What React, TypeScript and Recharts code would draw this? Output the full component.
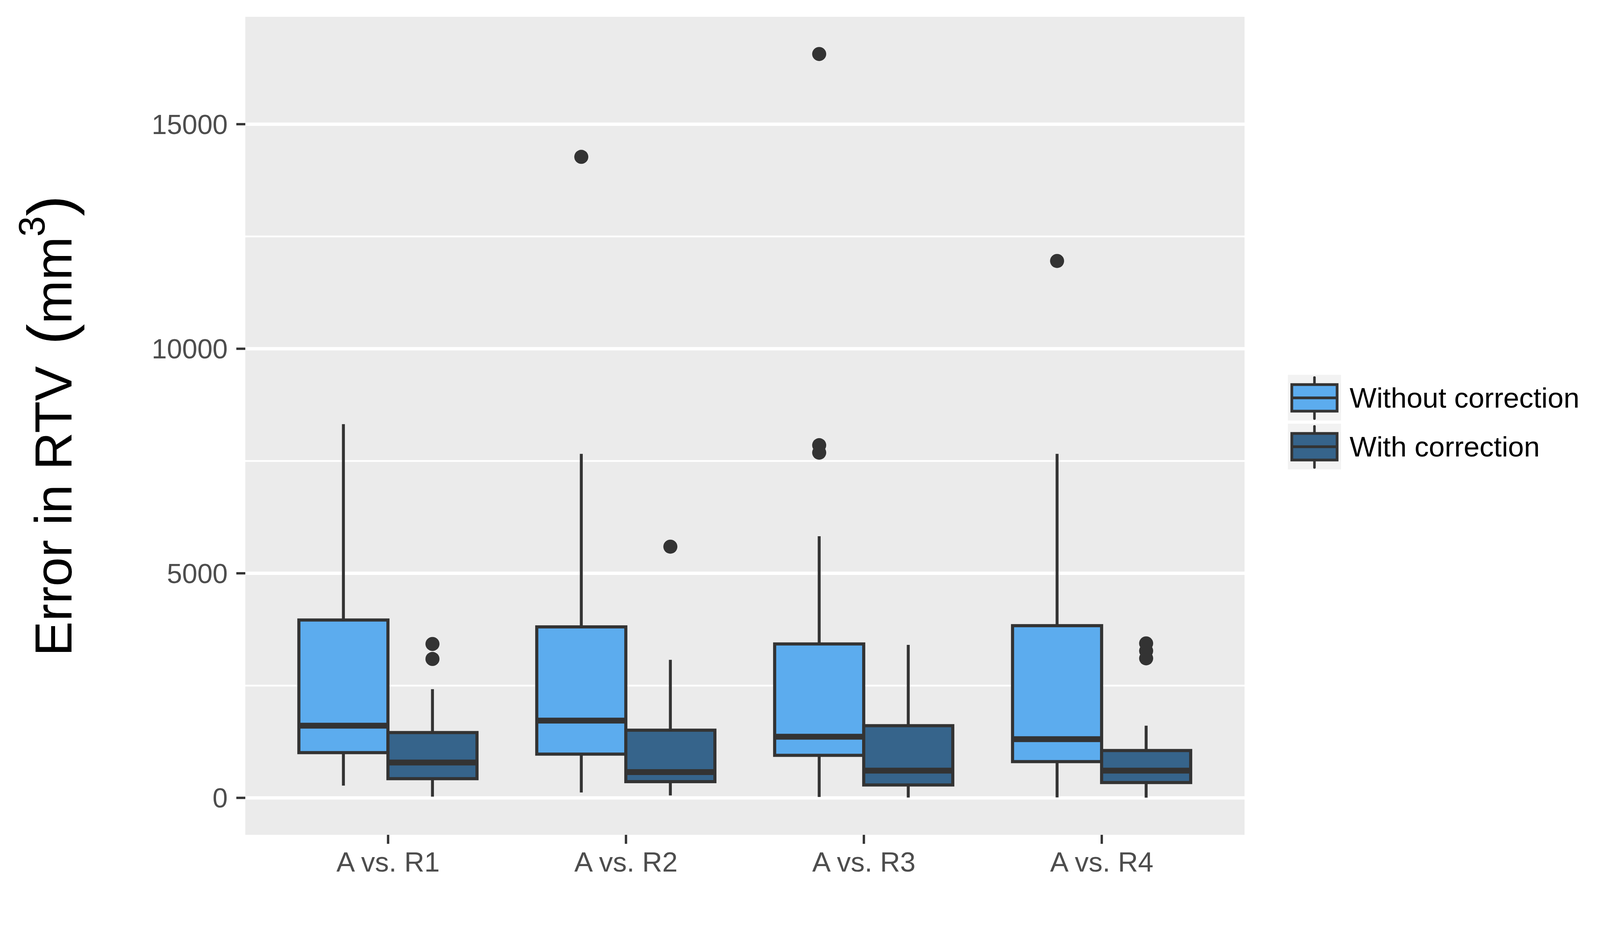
import React from 'react';
import { ComposedChart, Bar, XAxis, YAxis, CartesianGrid, Legend } from 'recharts';

const categories = ['A vs. R1', 'A vs. R2', 'A vs. R3', 'A vs. R4'];
const seriesNames = ['Without correction', 'With correction'];
const seriesColors = ['#5CACEE', '#36648B'];

const withoutLow = [273, 120, 20, 10];
const withoutQ1 = [1007, 974, 947, 807];
const withoutMedian = [1607, 1720, 1361, 1307];
const withoutQ3 = [3960, 3807, 3427, 3834];
const withoutHigh = [8320, 7660, 5826, 7660];
const withoutOutliers = [[], [14273], [7853, 7686, 16563], [11955]];

const withLow = [27, 54, 7, 5];
const withQ1 = [427, 361, 287, 341];
const withMedian = [787, 574, 607, 607];
const withQ3 = [1454, 1507, 1607, 1054];
const withHigh = [2420, 3073, 3407, 1607];
const withOutliers = [[3427, 3093], [5593], [], [3440, 3273, 3107]];

const yTicks = [0, 5000, 10000, 15000];
const yMinorTicks = [2500, 7500, 12500];
const yDomain = [-823, 17391];

const data = categories.map((cat, i) => ({
  cat,
  woLo: withoutLow[i], woQ1: withoutQ1[i], woMed: withoutMedian[i], woQ3: withoutQ3[i], woHi: withoutHigh[i], woOut: withoutOutliers[i],
  wLo: withLow[i], wQ1: withQ1[i], wMed: withMedian[i], wQ3: withQ3[i], wHi: withHigh[i], wOut: withOutliers[i],
}));

const FONT = '"Liberation Sans", Arial, Helvetica, sans-serif';
const INK = '#333333';

const makeBoxShape = (p: string) => (props: any) => {
  const { x, y, width, height, payload, fill } = props;
  const lo = payload[p + 'Lo'];
  const hi = payload[p + 'Hi'];
  const pix = (v: number) => y + (height * (hi - v)) / (hi - lo);
  const cx = x + width / 2;
  const outs: number[] = payload[p + 'Out'] || [];
  return (
    <g>
      <line x1={cx} x2={cx} y1={pix(hi)} y2={pix(payload[p + 'Q3'])} stroke={INK} strokeWidth={7.5} />
      <line x1={cx} x2={cx} y1={pix(payload[p + 'Q1'])} y2={pix(lo)} stroke={INK} strokeWidth={7.5} />
      <rect x={x} y={pix(payload[p + 'Q3'])} width={width} height={pix(payload[p + 'Q1']) - pix(payload[p + 'Q3'])} fill={fill} stroke={INK} strokeWidth={8} />
      <line x1={x} x2={x + width} y1={pix(payload[p + 'Med'])} y2={pix(payload[p + 'Med'])} stroke={INK} strokeWidth={15} />
      {outs.map((v, k) => (
        <circle key={k} cx={cx} cy={pix(v)} r={18} fill={INK} />
      ))}
    </g>
  );
};

const YTitle = (props: any) => {
  const vb = props.viewBox || { y: 43, height: 2093 };
  const cy = vb.y + vb.height / 2;
  const bx = 183;
  return (
    <text x={bx} y={cy} transform={`rotate(-90, ${bx}, ${cy})`} textAnchor="middle" fill="#000000" fontSize={134} fontFamily={FONT}>
      <tspan>Error in RTV</tspan>
      <tspan dx={55} fontSize={160}>(</tspan>
      <tspan>mm</tspan>
      <tspan fontSize={94} dy={-69}>3</tspan>
      <tspan fontSize={160} dy={69}>)</tspan>
    </text>
  );
};

const renderLegend = (props: any) => {
  const payload = props.payload || [];
  const ordered = seriesNames.map((name, i) => {
    const found = payload.find((e: any) => e.value === name);
    return { value: name, color: found ? found.color : seriesColors[i] };
  });
  return (
    <svg width={900} height={250} style={{ overflow: 'visible' }}>
      {ordered.map((entry: any, i: number) => {
        const oy = i * 125;
        return (
          <g key={i}>
            <rect x={0} y={oy} width={136} height={117} fill="#F2F2F2" />
            <line x1={68} x2={68} y1={oy + 7} y2={oy + 112} stroke={INK} strokeWidth={6.5} strokeLinecap="round" />
            <rect x={10} y={oy + 25} width={116} height={68} fill={entry.color} stroke={INK} strokeWidth={7} />
            <line x1={10} x2={126} y1={oy + 59} y2={oy + 59} stroke={INK} strokeWidth={7} />
            <text x={158} y={oy + 84} fontSize={73} fill="#000000" fontFamily={FONT}>{entry.value}</text>
          </g>
        );
      })}
    </svg>
  );
};

export default function App() {
  return (
    <div style={{ position: 'absolute', left: 0, top: 0, width: 4200, height: 2400, background: '#FFFFFF', fontFamily: FONT }}>
      <ComposedChart width={4200} height={2400} data={data} margin={{ top: 43, right: 1014, bottom: 0, left: 0 }} barCategoryGap="12.5%" barGap={0}>
        <CartesianGrid fill="#EBEBEB" stroke="#FFFFFF" strokeWidth={4.5} vertical={false} horizontalValues={yMinorTicks} />
        <CartesianGrid stroke="#FFFFFF" strokeWidth={8.5} vertical={false} horizontalValues={yTicks} />
        <XAxis dataKey="cat" type="category" height={264} padding={{ left: 61, right: 61 }} axisLine={false} tickSize={23} tickMargin={21} tickLine={{ stroke: INK, strokeWidth: 6 }} tick={{ fill: '#4D4D4D', fontSize: 71, fontFamily: FONT }} />
        <YAxis type="number" domain={yDomain} ticks={yTicks} allowDataOverflow width={628} axisLine={false} tickSize={23} tickMargin={22} tickLine={{ stroke: INK, strokeWidth: 6 }} tick={{ fill: '#4D4D4D', fontSize: 70, fontFamily: FONT }} label={{ content: (p: any) => <YTitle {...p} /> }} />
        <Legend layout="horizontal" align="center" verticalAlign="middle" wrapperStyle={{ left: 3297, top: 959, width: 900, height: 250 }} content={renderLegend} />
        <Bar name={seriesNames[0]} dataKey={(d: any) => [d.woLo, d.woHi]} fill={seriesColors[0]} isAnimationActive={false} shape={makeBoxShape('wo')} />
        <Bar name={seriesNames[1]} dataKey={(d: any) => [d.wLo, d.wHi]} fill={seriesColors[1]} isAnimationActive={false} shape={makeBoxShape('w')} />
      </ComposedChart>
    </div>
  );
}
